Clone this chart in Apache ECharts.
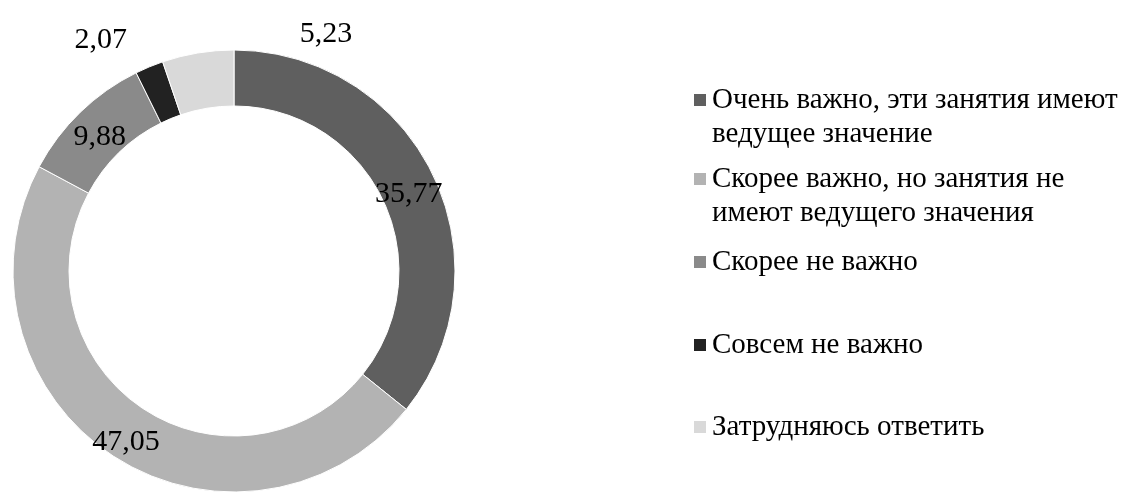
<!DOCTYPE html>
<html>
<head>
<meta charset="utf-8">
<script src="https://cdn.jsdelivr.net/npm/echarts@6/dist/echarts.min.js"></script>
<style>html,body{margin:0;padding:0;background:#fff}#c{width:1121px;height:495px}</style>
</head>
<body>
<div id="c"></div>
<script>
const categories = [
  'Очень важно, эти занятия имеют\nведущее значение',
  'Скорее важно, но занятия не\nимеют ведущего значения',
  'Скорее не важно',
  'Совсем не важно',
  'Затрудняюсь ответить'
];
const values = [35.77, 47.05, 9.88, 2.07, 5.23];
const valueLabels = ['35,77', '47,05', '9,88', '2,07', '5,23'];
const colors = ['#5f5f5f', '#b3b3b3', '#8a8a8a', '#222222', '#d9d9d9'];

// layout (not data)
const labelOffsets = [[-2, 8], [0, 8], [2, 7], [-58, -50], [124, -44]];
const legendLineCenters = [100, 179, 262, 345, 427];
const FONT = '"Liberation Serif", "Times New Roman", serif';
const LH = 34;

const chart = echarts.init(document.getElementById('c'), null, {renderer: 'canvas'});

const legends = categories.map((name, i) => {
  const lines = name.split('\n').length;
  return {
    orient: 'vertical',
    left: 692,
    top: legendLineCenters[i] - LH / 2 - (lines - 1) * LH,
    padding: 0,
    itemWidth: 14,
    itemHeight: 14,
    selectedMode: false,
    icon: 'rect',
    data: [name],
    formatter: n => (lines > 1 ? ' \n'.repeat(lines - 1) + n : n),
    textStyle: {
      fontFamily: FONT,
      fontSize: 29,
      color: '#000',
      lineHeight: LH
    }
  };
});

chart.setOption({
  backgroundColor: '#fff',
  animation: false,
  color: colors,
  legend: legends,
  series: [{
    type: 'pie',
    center: [234, 271],
    radius: [165, 221],
    startAngle: 90,
    clockwise: true,
    avoidLabelOverlap: false,
    itemStyle: {borderColor: '#fff', borderWidth: 1},
    label: {
      show: true,
      position: 'inside',
      fontFamily: FONT,
      fontSize: 30,
      color: '#000'
    },
    labelLine: {show: false},
    emphasis: {disabled: true},
    data: categories.map((name, i) => ({
      name: name,
      value: values[i],
      itemStyle: {color: colors[i]},
      label: {formatter: valueLabels[i], offset: labelOffsets[i]}
    }))
  }]
});
</script>
</body>
</html>
